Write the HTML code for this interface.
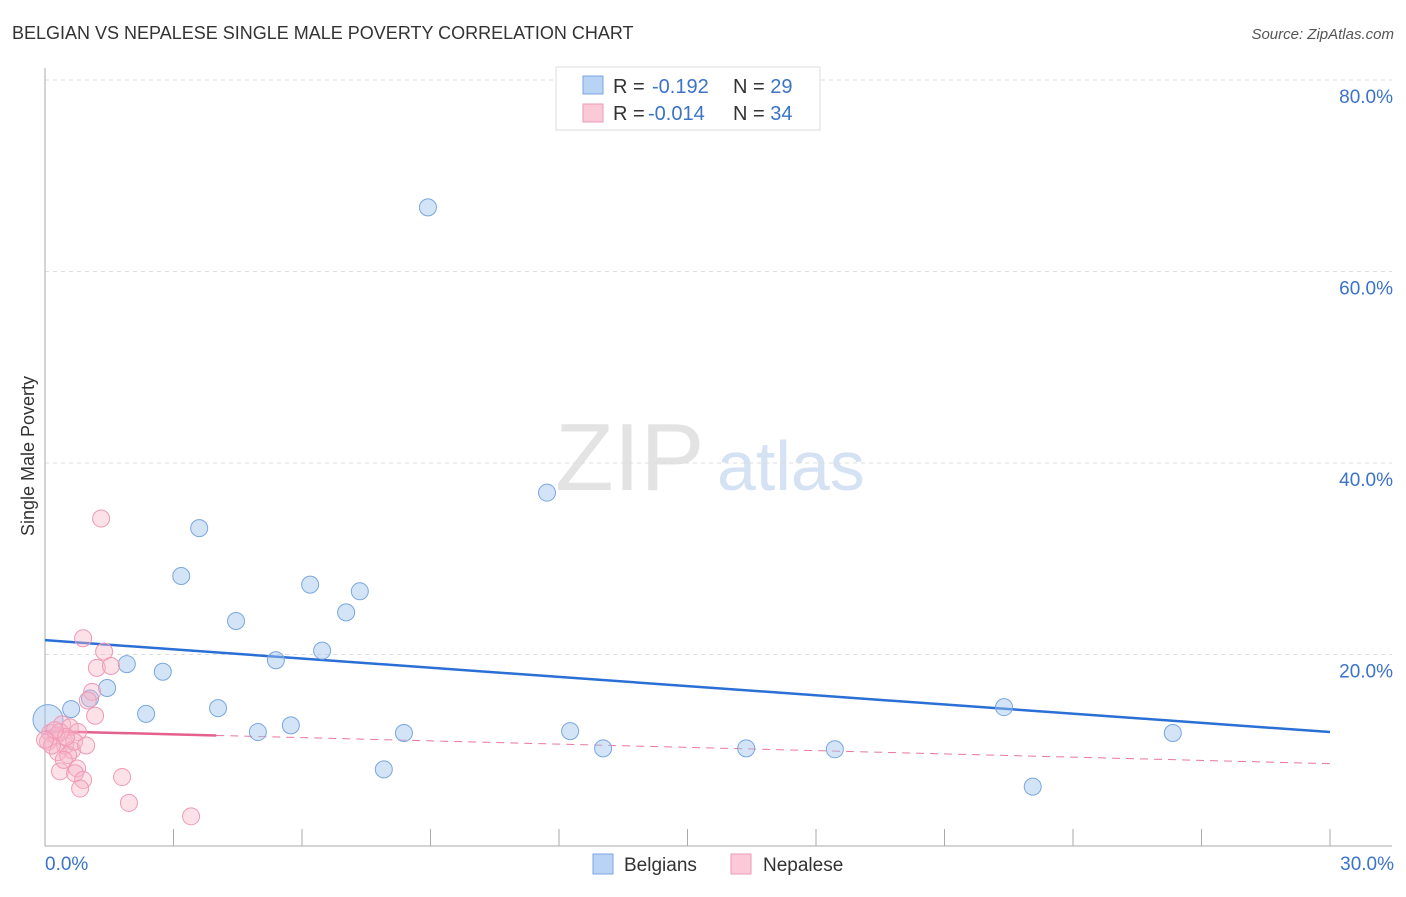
<!DOCTYPE html>
<html><head><meta charset="utf-8"><style>
body{margin:0;background:#fff;font-family:"Liberation Sans",sans-serif}
svg text{font-family:"Liberation Sans",sans-serif}
</style></head><body>
<svg width="1406" height="892" viewBox="0 0 1406 892" xmlns="http://www.w3.org/2000/svg">
<text x="12" y="39" font-size="18" fill="#333">BELGIAN VS NEPALESE SINGLE MALE POVERTY CORRELATION CHART</text>
<text x="1394" y="39" font-size="15" fill="#555" font-style="italic" text-anchor="end">Source: ZipAtlas.com</text>
<g>
<text x="555" y="490" font-size="96" fill="#e3e3e3" font-family="Liberation Serif,serif">ZIP</text>
<text x="717" y="490" font-size="70" fill="#d5e2f3">atlas</text>
</g>
<g id="grid"></g>
<g id="axes"></g>
<text transform="translate(34,456) rotate(-90)" font-size="18" fill="#333" text-anchor="middle">Single Male Poverty</text>
<g id="trend"></g>
<g id="pts"></g>
<g>
<rect x="556" y="67" width="264" height="63" fill="#fff" stroke="#ddd"/>
<rect x="583" y="76" width="20" height="18" fill="#b8d3f3" stroke="#7aa6e0"/>
<rect x="583" y="104" width="20" height="18" fill="#fbc9d8" stroke="#ee9ab6"/>
<text x="613" y="93" font-size="20" fill="#333">R = <tspan x="652" fill="#3b73c9">-0.192</tspan><tspan x="733">N = </tspan><tspan fill="#3b73c9">29</tspan></text>
<text x="613" y="120" font-size="20" fill="#333">R = <tspan x="648" fill="#3b73c9">-0.014</tspan><tspan x="733">N = </tspan><tspan fill="#3b73c9">34</tspan></text>
</g>
<g>
<rect x="593" y="854" width="20" height="20" fill="#b8d3f3" stroke="#7aa6e0"/>
<text x="624" y="871" font-size="19" fill="#333">Belgians</text>
<rect x="731" y="854" width="20" height="20" fill="#fbc9d8" stroke="#ee9ab6"/>
<text x="763" y="871" font-size="19" fill="#333">Nepalese</text>
</g>
</svg>
<script>
const yTicks=[20,40,60,80];
const yTickLabels=["20.0%","40.0%","60.0%","80.0%"];
const xTickLabels=["0.0%","30.0%"];
const belX=[8.94,11.72,3.60,3.18,6.19,7.35,7.03,4.46,6.47,5.39,1.91,2.75,1.45,1.05,0.61,4.04,2.36,5.74,4.97,8.38,12.26,13.03,16.37,18.44,7.91,22.39,23.06,26.33,0.07];
const belY=[66.7,36.9,33.2,28.2,27.3,26.6,24.4,23.5,20.4,19.4,19.0,18.2,16.5,15.4,14.3,14.4,13.8,12.6,11.9,11.8,12.0,10.2,10.2,10.1,8.0,14.5,6.2,11.8,13.2];
const nepX=[1.31,0.89,1.38,1.21,1.54,1.10,1.00,1.17,0.40,0.58,0.77,0.12,0.26,0.07,0.47,0.63,0.30,0.54,0.68,0.16,0.35,0.49,0.75,0.35,0.70,0.89,0.82,1.80,1.96,3.41,0.23,0.44,0.0,0.96];
const nepY=[34.2,21.7,20.3,18.6,18.8,16.1,15.2,13.6,12.7,12.4,11.9,11.8,11.5,10.9,10.5,10.0,9.8,9.5,10.9,10.5,11.9,11.4,8.1,7.8,7.6,6.9,6.0,7.2,4.5,3.1,12.1,9.0,11.1,10.5];
const belTrend=[21.5,11.9];
const nepTrend=[12.0,8.6];
const nepSolidEnd=4.0;
const NS="http://www.w3.org/2000/svg";
const sx=v=>45+v/30*1285;
const sy=v=>846-v/20*191.5;
function mk(t,a,p){const e=document.createElementNS(NS,t);for(const k in a)e.setAttribute(k,a[k]);p.appendChild(e);return e;}
const grid=document.getElementById('grid'),axes=document.getElementById('axes'),trend=document.getElementById('trend'),pts=document.getElementById('pts');
yTicks.forEach((t,i)=>{
 const l=mk('line',{x1:45,x2:1392,y1:sy(t),y2:sy(t),stroke:'#ddd','stroke-dasharray':'4 4'},grid);
 
 
 const tx=mk('text',{x:1393,y:sy(t)+23,'font-size':19,fill:'#3b73c9','text-anchor':'end'},grid);
 tx.textContent=yTickLabels[i];
 
 
});
mk('line',{x1:45,x2:45,y1:68,y2:846,stroke:'#aaa'},axes);
mk('line',{x1:45,x2:1392,y1:846,y2:846,stroke:'#aaa'},axes);
for(let i=0;i<=10;i++){const x=sx(i*3);const t=mk('line',{x1:x,x2:x,y1:829,y2:846,stroke:'#aaa'},axes);
 
 }
[[0,'start'],[30,'end']].forEach((p,i)=>{const t=mk('text',{x:sx(p[0])+(i?64:0),y:870,'font-size':19,fill:'#3b73c9','text-anchor':p[1]},axes);t.textContent=xTickLabels[i];
 
 });
const bl=mk('line',{x1:sx(0),y1:sy(belTrend[0]),x2:sx(30),y2:sy(belTrend[1]),stroke:'#2a6fd6','stroke-width':2.5},trend);


const ny=x=>nepTrend[0]+(nepTrend[1]-nepTrend[0])*x/30;
const nd=mk('line',{x1:sx(nepSolidEnd),y1:sy(ny(nepSolidEnd)),x2:sx(30),y2:sy(nepTrend[1]),stroke:'#e8779c','stroke-width':1,'stroke-dasharray':'8 6'},trend);


const ns=mk('line',{x1:sx(0),y1:sy(nepTrend[0]),x2:sx(nepSolidEnd),y2:sy(ny(nepSolidEnd)),stroke:'#e5608d','stroke-width':2.5},trend);


belX.forEach((x,i)=>{const c=mk('circle',{cx:sx(x),cy:sy(belY[i]),r:i==belX.length-1?15:8.5,fill:'rgba(160,195,238,0.45)',stroke:'#7aa6e0','stroke-width':1},pts);
 
 });
nepX.forEach((x,i)=>{const c=mk('circle',{cx:sx(x),cy:sy(nepY[i]),r:8.5,fill:'rgba(248,180,200,0.4)',stroke:'#ee9ab6','stroke-width':1},pts);
 
 });
</script>
</body></html>
